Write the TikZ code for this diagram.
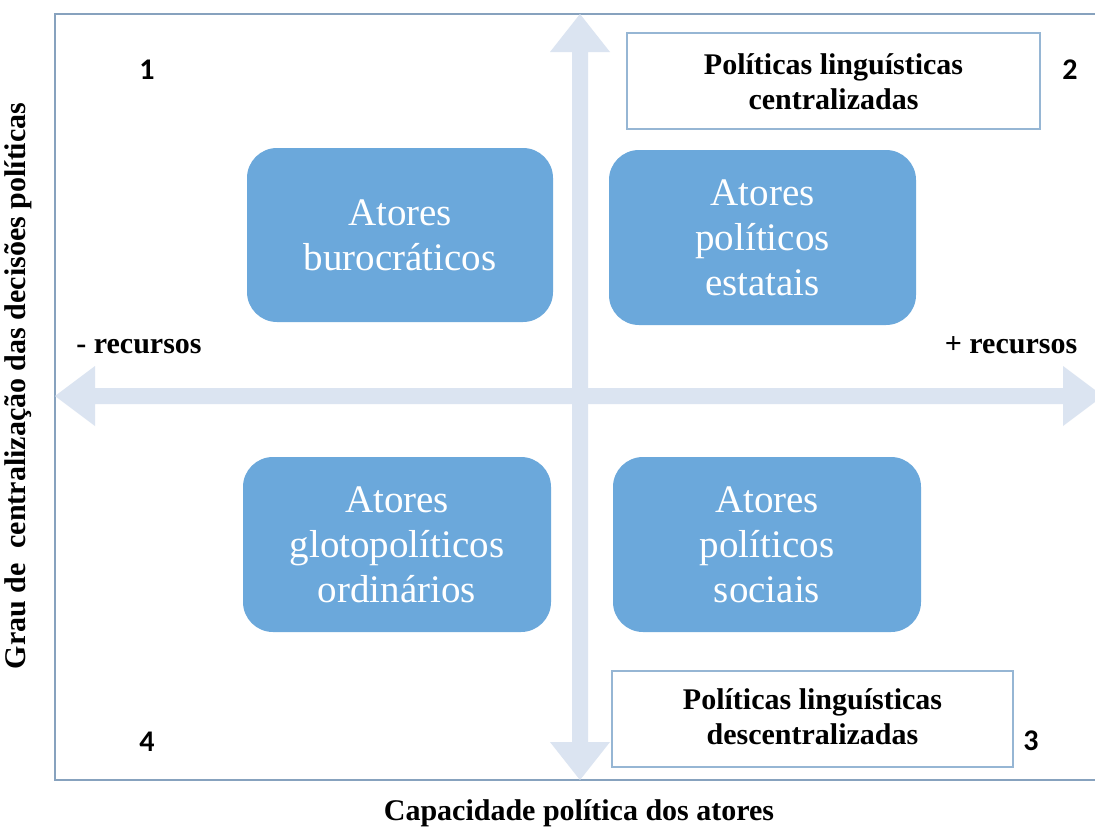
\documentclass[tikz,border=0pt]{standalone}
\usepackage{fontspec}
\setmainfont{Liberation Serif}
\newfontfamily\numfont{Carlito}
\definecolor{framec}{RGB}{135,162,190}
\definecolor{arrowc}{RGB}{219,228,241}
\definecolor{boxc}{RGB}{107,168,219}
\definecolor{wboxc}{RGB}{150,182,212}
\begin{document}
\begin{tikzpicture}[x=1pt,y=-1pt,
  actor/.style={fill=boxc, draw=none, rounded corners=30pt, text=white, align=center,
    inner sep=0pt, font=\fontsize{39}{45}\selectfont},
  policy/.style={fill=white, draw=wboxc, line width=1.2pt, inner sep=0pt},
  ptext/.style={align=center, inner sep=0pt, font=\bfseries\fontsize{30}{35}\selectfont},
  lbl/.style={font=\bfseries\fontsize{30}{34}\selectfont, inner sep=0pt},
  num/.style={font=\numfont\bfseries\fontsize{30}{30}\selectfont, inner sep=0pt, anchor=base}]
\useasboundingbox (0,0) rectangle (1095,828);
\clip (0,0) rectangle (1095,828);
\fill[white] (0,0) rectangle (1095,828);

% frame
\draw[framec, line width=1.6pt] (55,14) rectangle (1120,780);

% axes (block double arrows)
\fill[arrowc] (580,14) -- (610,52) -- (588,52) -- (588,742) -- (610,742) -- (580,780)
  -- (550,742) -- (572,742) -- (572,52) -- (550,52) -- cycle;
\fill[arrowc] (55,396) -- (95,366) -- (95,388) -- (1063,388) -- (1063,366) -- (1103,396)
  -- (1063,426) -- (1063,404) -- (95,404) -- (95,426) -- cycle;

% actor boxes
\node[actor, minimum width=306pt, minimum height=174pt] (b1) at (400,235)
  {Atores\\burocráticos};
\node[actor, minimum width=307pt, minimum height=175pt] (b2) at (762.5,237.5)
  {Atores\\políticos\\estatais};
\node[actor, minimum width=308pt, minimum height=175pt] (b3) at (397,544.5)
  {Atores\\glotopolíticos\\ordinários};
\node[actor, minimum width=308pt, minimum height=175pt] (b4) at (767,544.5)
  {Atores\\políticos\\sociais};

% policy boxes
\node[policy, minimum width=413pt, minimum height=96pt] (w1) at (833.5,81) {};
\node[ptext] (t1) at ([yshift=-1pt]w1.center) {Políticas linguísticas\\centralizadas};
\node[policy, minimum width=401pt, minimum height=96pt] (w2) at (812.5,719) {};
\node[ptext] (t2) at ([yshift=2pt]w2.center) {Políticas linguísticas\\descentralizadas};

% quadrant numbers
\node[num] (n1) at (147,79) {1};
\node[num] (n2) at (1070,79) {2};
\node[num] (n3) at (1031,750) {3};
\node[num] (n4) at (147,751) {4};

% axis labels
\node[lbl, anchor=base] (lm) at (139,353) {- recursos};
\node[lbl, anchor=base] (lp) at (1011,353) {+ recursos};
\node[lbl, anchor=base] (xl) at (579,820) {Capacidade política dos atores};
\node[lbl, anchor=base, rotate=90] (yl) at (25,386)
  {Grau de\ \ centralização das decisões políticas};
\end{tikzpicture}
\end{document}
